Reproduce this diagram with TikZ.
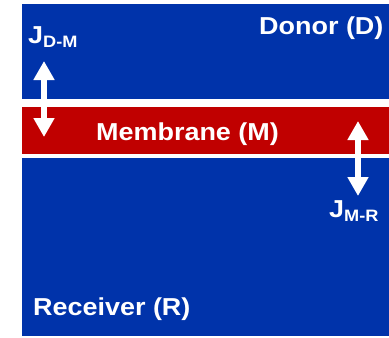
\documentclass[tikz,border=0pt]{standalone}
\usepackage{fontspec}
\setmainfont{Liberation Sans}[FakeStretch=1.1]
\usetikzlibrary{arrows.meta}
\definecolor{bgblue}{HTML}{0033AA}
\definecolor{memred}{HTML}{C00000}
\newcommand\jflux[1]{J\raisebox{-4.3pt}{\fontsize{16.5}{18}\selectfont #1}}
\begin{document}
\begin{tikzpicture}[x=1pt,y=-1pt,
  lbl/.style={text=white,font=\fontsize{24.5}{28}\selectfont\bfseries,inner sep=0pt,anchor=base west},
  dbl/.style={draw=white,line width=5.5pt,{Triangle[width=20pt,length=19pt]}-{Triangle[width=20pt,length=19pt]}}]
\useasboundingbox (0,0) rectangle (389,338);
% regions
\fill[bgblue] (22,4) rectangle (389,336);
\fill[white] (22,99) rectangle (389,157.5);
\fill[memred] (22,106.5) rectangle (389,154);
% labels
\node[lbl] (donor) at (259,34) {Donor (D)};
\node[lbl] (membrane) at (96,140.3) {Membrane (M)};
\node[lbl] (receiver) at (33,315.7) {Receiver (R)};
\node[lbl] (jdm) at (28,43) {\jflux{D-M}};
\node[lbl] (jmr) at (329,217) {\jflux{M-R}};
% flux arrows
\coordinate (a1) at (44,61);
\coordinate (a2) at (44,137);
\coordinate (b1) at (358,121);
\coordinate (b2) at (358,196);
\draw[dbl] (a1) -- (a2);
\draw[dbl] (b1) -- (b2);
\end{tikzpicture}
\end{document}
